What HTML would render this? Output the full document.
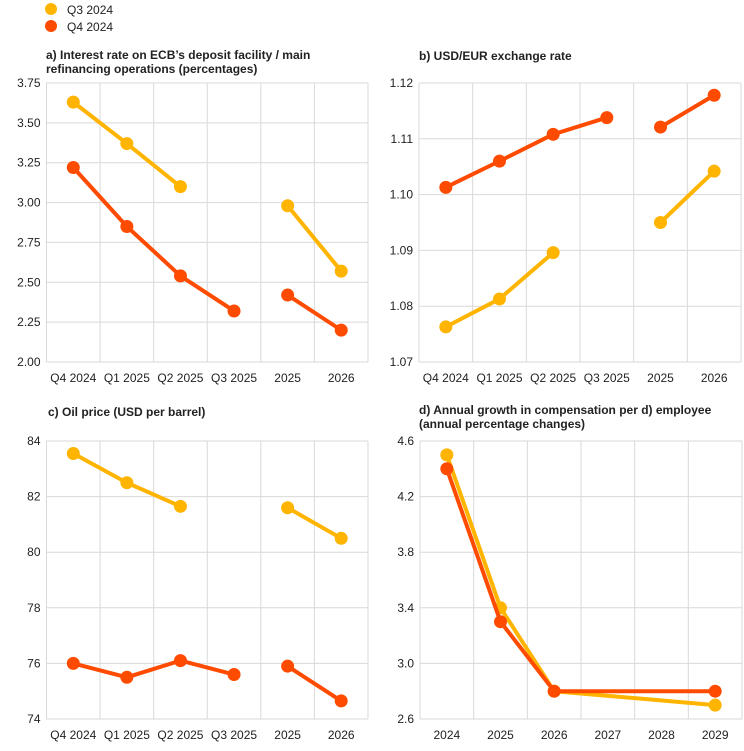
<!DOCTYPE html>
<html><head><meta charset="utf-8"><style>
body{margin:0;background:#fff;width:744px;height:746px;overflow:hidden;font-family:"Liberation Sans",Arial,sans-serif}
svg text{font-family:"Liberation Sans",Arial,sans-serif}
</style></head><body>
<svg id="c" width="744" height="746" xmlns="http://www.w3.org/2000/svg">
<g>
<g><circle cx="51" cy="9" r="6" fill="#FFB400"/><text x="67" y="14" font-size="12" fill="#222">Q3 2024</text></g>
<g><circle cx="51" cy="26" r="6" fill="#FF4B00"/><text x="67" y="31" font-size="12" fill="#222">Q4 2024</text></g>
</g>
<text x="46" y="59" font-size="12" font-weight="bold" fill="#222">a) Interest rate on ECB’s deposit facility / main<tspan x="46" dy="14">refinancing operations (percentages)</tspan></text>
<text x="419" y="60" font-size="12" font-weight="bold" fill="#222">b) USD/EUR exchange rate</text>
<text x="48" y="416" font-size="12" font-weight="bold" fill="#222">c) Oil price (USD per barrel)</text>
<text x="419" y="414" font-size="12" font-weight="bold" fill="#222">d) Annual growth in compensation per d) employee<tspan x="419" dy="14">(annual percentage changes)</tspan></text>
</svg>
<script>
const catsQ = ["Q4 2024","Q1 2025","Q2 2025","Q3 2025","2025","2026"];
const catsY = ["2024","2025","2026","2027","2028","2029"];
const aQ3 = [3.63,3.37,3.10,null,2.98,2.57];
const aQ4 = [3.22,2.85,2.54,2.32,2.42,2.20];
const aTicks = ["2.00","2.25","2.50","2.75","3.00","3.25","3.50","3.75"];
const bQ3 = [1.0763,1.0813,1.0896,null,1.0950,1.1042];
const bQ4 = [1.1013,1.1060,1.1108,1.1138,1.1121,1.1178];
const bTicks = ["1.07","1.08","1.09","1.10","1.11","1.12"];
const cQ3 = [83.55,82.5,81.65,null,81.6,80.5];
const cQ4 = [76.0,75.5,76.1,75.6,75.9,74.65];
const cTicks = ["74","76","78","80","82","84"];
const dQ3 = [4.5,3.4,2.8,null,null,2.7];
const dQ4 = [4.4,3.3,2.8,null,null,2.8];
const dTicks = ["2.6","3.0","3.4","3.8","4.2","4.6"];

const svg=document.getElementById('c');
const NS="http://www.w3.org/2000/svg";
function mk(t,a){const e=document.createElementNS(NS,t);for(const k in a)e.setAttribute(k,a[k]);svg.appendChild(e);return e;}
function panel(id,L,R,T,B,cats,ticks,series,connect,breakAfter){
  const min=parseFloat(ticks[0]),max=parseFloat(ticks[ticks.length-1]);
  const y=v=>B-(v-min)/(max-min)*(B-T);
  const cw=(R-L)/cats.length;
  const x=i=>L+cw*(i+0.5);
  ticks.forEach(t=>{
    const g=mk('line',{x1:L,x2:R,y1:y(parseFloat(t)),y2:y(parseFloat(t)),stroke:'#d9d9d9','stroke-width':1});
    
    
    const tx=mk('text',{x:L-6,y:y(parseFloat(t))+4,'font-size':12,'text-anchor':'end',fill:'#222'});
    tx.textContent=t;
    
    
  });
  for(let i=0;i<=cats.length;i++){
    const g=mk('line',{x1:L+cw*i,x2:L+cw*i,y1:T,y2:B,stroke:'#d9d9d9','stroke-width':1});
    
    
  }
  cats.forEach((c,i)=>{
    const tx=mk('text',{x:x(i),y:B+20,'font-size':12,'text-anchor':'middle',fill:'#222'});
    tx.textContent=c;
    
    
  });
  series.forEach(([vals,col,nm])=>{
    let segs=[],cur=[];
    vals.forEach((v,i)=>{
      if(i===4&&breakAfter&&cur.length){segs.push(cur);cur=[];}
      if(v===null){if(!connect&&cur.length){segs.push(cur);cur=[];}return;}
      cur.push([x(i),y(v)]);
    });
    if(cur.length)segs.push(cur);
    segs.forEach(s=>{
      const p=mk('polyline',{points:s.map(q=>q.join(',')).join(' '),fill:'none',stroke:col,'stroke-width':4,'stroke-linejoin':'round'});
      
      
    });
    vals.forEach((v,i)=>{
      if(v===null)return;
      const c=mk('circle',{cx:x(i),cy:y(v),r:6.5,fill:col});
      
      
    });
  });
}
panel('panel-a',46.5,368,83,362,catsQ,aTicks,[[aQ3,'#FFB400','q3'],[aQ4,'#FF4B00','q4']],false,true);
panel('panel-b',419,741,83,362,catsQ,bTicks,[[bQ3,'#FFB400','q3'],[bQ4,'#FF4B00','q4']],false,true);
panel('panel-c',46.5,368,441,719,catsQ,cTicks,[[cQ3,'#FFB400','q3'],[cQ4,'#FF4B00','q4']],false,true);
panel('panel-d',420,742,441,719,catsY,dTicks,[[dQ3,'#FFB400','q3'],[dQ4,'#FF4B00','q4']],true,false);
</script>
</body></html>
